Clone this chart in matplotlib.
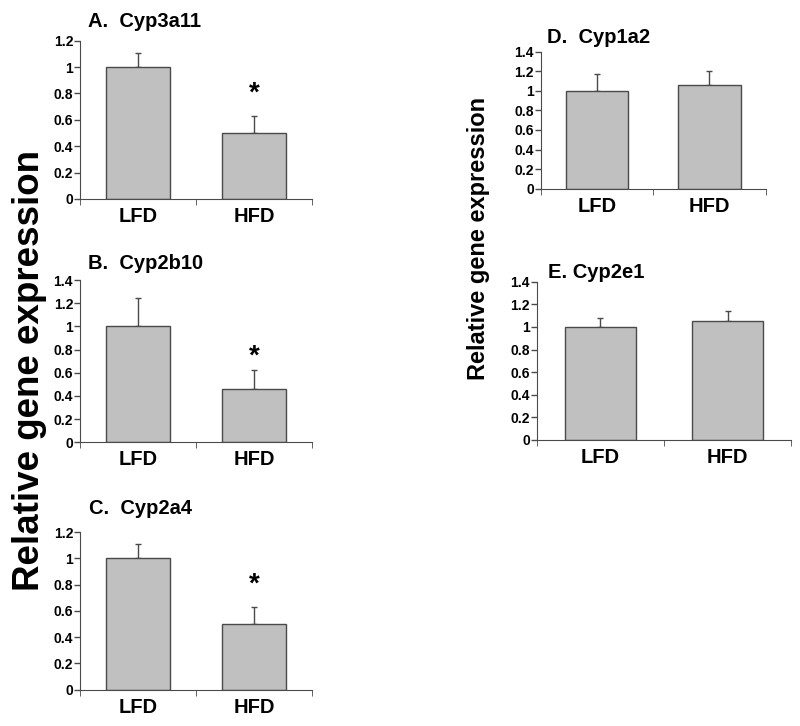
import matplotlib
matplotlib.use("Agg")
import matplotlib.pyplot as plt

plt.rcParams['font.family'] = ['Liberation Sans', 'DejaVu Sans']

groups = ["LFD", "HFD"]

# panel titles
titles = ["A.  Cyp3a11", "B.  Cyp2b10", "C.  Cyp2a4", "D.  Cyp1a2", "E. Cyp2e1"]

# means and upper error (SE) for each panel
means = [
    [1.0, 0.50],
    [1.0, 0.46],
    [1.0, 0.50],
    [1.0, 1.06],
    [1.0, 1.05],
]
errors = [
    [0.11, 0.13],
    [0.245, 0.16],
    [0.11, 0.13],
    [0.17, 0.14],
    [0.08, 0.09],
]
ymax = [1.2, 1.4, 1.2, 1.4, 1.4]
yticks = [
    [0, 0.2, 0.4, 0.6, 0.8, 1, 1.2],
    [0, 0.2, 0.4, 0.6, 0.8, 1, 1.2, 1.4],
    [0, 0.2, 0.4, 0.6, 0.8, 1, 1.2],
    [0, 0.2, 0.4, 0.6, 0.8, 1, 1.2, 1.4],
    [0, 0.2, 0.4, 0.6, 0.8, 1, 1.2, 1.4],
]
# significance star height (None = no star)
star_y = [0.80, 0.74, 0.80, None, None]

# layout: axes rectangles (figure fractions), title x offset and pad
rects = [
    [0.100, 0.726, 0.290, 0.218],
    [0.100, 0.391, 0.290, 0.223],
    [0.100, 0.050, 0.290, 0.217],
    [0.676, 0.740, 0.281, 0.189],
    [0.671, 0.394, 0.318, 0.218],
]
title_x = [0.035, 0.035, 0.04, 0.027, 0.043]
title_pad = [10, 8, 13, 6, 0]

fig = plt.figure(figsize=(8, 7.26), dpi=100)

for i in range(5):
    ax = fig.add_axes(rects[i])
    x = list(range(len(groups)))
    ax.bar(x, means[i], width=0.56, color="#c0c0c0", edgecolor="#4a4a4a",
           linewidth=1, zorder=2)
    ax.errorbar(x, means[i], yerr=[[0, 0], errors[i]], fmt="none",
                ecolor="#4a4a4a", elinewidth=1, capsize=2.5, capthick=1, zorder=1)
    ax.set_xlim(-0.5, 1.5)
    ax.set_ylim(0, ymax[i])
    ax.set_yticks(yticks[i])
    ax.set_yticklabels([("%g" % v) for v in yticks[i]], fontsize=10,
                       fontweight="bold")
    ax.set_xticks(x)
    ax.set_xticklabels(groups, fontsize=14.5, fontweight="bold")
    ax.tick_params(axis="x", length=0, pad=6)
    ax.set_xticks([-0.5, 0.5, 1.5], minor=True)
    ax.tick_params(axis="x", which="minor", length=4, color="#4a4a4a")
    ax.tick_params(axis="y", length=4, width=1, color="#4a4a4a", pad=1)
    ax.spines["top"].set_visible(False)
    ax.spines["right"].set_visible(False)
    ax.spines["left"].set_color("#4a4a4a")
    ax.spines["bottom"].set_color("#4a4a4a")
    ax.set_title(titles[i], fontsize=14.5, fontweight="bold", loc="left",
                 x=title_x[i], pad=title_pad[i])
    if star_y[i] is not None:
        ax.text(1, star_y[i], "*", ha="center", va="center", fontsize=20,
                fontweight="bold")

fig.text(0.037, 0.49, "Relative gene expression", rotation=90, ha="center",
         va="center", fontsize=26.5, fontweight="bold")
fig.text(0.598, 0.672, "Relative gene expression", rotation=90, ha="center",
         va="center", fontsize=17, fontweight="bold")

fig.savefig("out.png", dpi=100)
